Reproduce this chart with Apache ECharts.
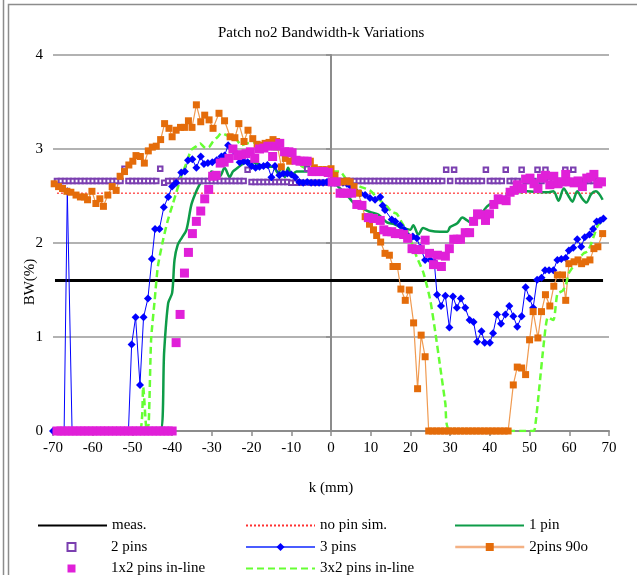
<!DOCTYPE html>
<html>
<head>
<meta charset="utf-8">
<script src="https://cdn.jsdelivr.net/npm/echarts@6/dist/echarts.min.js"></script>
<style>
html,body{margin:0;padding:0;background:#fff;}
#chart{width:637px;height:575px;}
</style>
</head>
<body>
<div id="chart"></div>
<script>
// ---------- DATA ----------
var titleText = 'Patch no2 Bandwidth-k Variations';
var xTicks = [-70, -60, -50, -40, -30, -20, -10, 0, 10, 20, 30, 40, 50, 60, 70];
var yTicks = [0, 1, 2, 3, 4];

var measK = [-69.5, 68.5];
var measV = [1.6, 1.6];

var noPinK = [-69, 68];
var noPinV = [2.53, 2.53];

var pin1K = [-70, -43, -42, -41, -40, -39.4, -38.6, -37.5, -36.4, -35.2, -34.3, -33.1, -32.2, -31, -30.1, -29, -28, -26.8, -25.5, -24.7, -23.5, -22.6, -20.5, -19, -17.9, -16.2, -14.6, -13.3, -12.5, -11.6, -10.8, -9.9, -8.7, -6.1, -4.5, -1.9, 0.2, 1.4, 2.3, 3.1, 4.8, 5.6, 7.3, 9.8, 12, 14.1, 16, 17.4, 19, 20, 20.7, 22, 23.2, 25, 27.5, 29.3, 30, 31.8, 33.1, 34.3, 35.1, 36, 37.6, 39.3, 40.9, 43.4, 44.8, 46, 47.7, 49.4, 52.8, 54.5, 56, 57.3, 58.6, 59.8, 60.8, 62, 63.3, 64.3, 65.5, 66.7, 68.4];
var pin1V = [0, 0, 0.85, 1.36, 1.47, 1.82, 1.98, 2.06, 2.14, 2.4, 2.51, 2.62, 2.67, 2.66, 2.76, 2.74, 2.71, 2.8, 2.7, 2.76, 2.8, 2.83, 2.87, 2.85, 2.83, 2.81, 2.81, 2.74, 2.82, 2.7, 2.8, 2.72, 2.76, 2.76, 2.79, 2.79, 2.75, 2.62, 2.58, 2.55, 2.47, 2.43, 2.38, 2.33, 2.3, 2.22, 2.2, 2.17, 2.15, 2.14, 2.19, 2.09, 2.16, 2.13, 2.12, 2.12, 2.17, 2.21, 2.27, 2.24, 2.22, 2.27, 2.3, 2.39, 2.43, 2.46, 2.55, 2.57, 2.54, 2.55, 2.54, 2.54, 2.55, 2.45, 2.58, 2.5, 2.44, 2.55, 2.47, 2.43, 2.52, 2.55, 2.46];

var pin2K = [-69, -68, -67, -66, -65, -64, -63, -62, -61, -60, -59, -58, -57, -56, -55, -54, -53, -52, -51, -50, -49, -48, -47, -46, -45, -44, -43, -42, -41, -40, -39, -38, -37, -36, -35, -34, -33, -32, -31, -30, -29, -28, -27, -26, -25, -24, -23, -22, -21, -20, -19, -18, -17, -16, -15, -14, -13, -12, -11, -10, -9, -8, -7, -6, -5, -4, -3, -2, -1, 0, 1, 2, 3, 4, 5, 6, 7, 8, 9, 10, 11, 12, 13, 14, 15, 16, 17, 18, 19, 20, 21, 22, 23, 24, 25, 26, 27, 28, 29, 30, 31, 32, 33, 34, 35, 36, 37, 38, 39, 40, 41, 42, 43, 44, 45, 46, 47, 48, 49, 50, 51, 52, 53, 54, 55, 56, 57, 58, 59, 60, 61, 62, 63, 64, 65, 66, 67, 68];
var pin2V = [2.66, 2.66, 2.66, 2.66, 2.66, 2.66, 2.66, 2.66, 2.66, 2.66, 2.66, 2.66, 2.66, 2.66, 2.66, 2.66, 2.66, 2.79, 2.66, 2.66, 2.66, 2.66, 2.66, 2.66, 2.66, 2.66, 2.79, 2.64, 2.66, 2.66, 2.66, 2.66, 2.66, 2.66, 2.66, 2.66, 2.66, 2.66, 2.66, 2.66, 2.66, 2.66, 2.66, 2.66, 2.66, 2.66, 2.66, 2.66, 2.78, 2.65, 2.65, 2.65, 2.65, 2.65, 2.65, 2.65, 2.65, 2.65, 2.65, 2.64, 2.64, 2.64, 2.64, 2.79, 2.64, 2.64, 2.64, 2.64, 2.64, 2.66, 2.66, 2.66, 2.66, 2.66, 2.66, 2.66, 2.66, 2.66, 2.66, 2.66, 2.66, 2.66, 2.66, 2.66, 2.66, 2.66, 2.66, 2.66, 2.66, 2.66, 2.66, 2.66, 2.66, 2.66, 2.66, 2.66, 2.66, 2.66, 2.78, 2.66, 2.78, 2.66, 2.66, 2.66, 2.66, 2.66, 2.66, 2.66, 2.78, 2.66, 2.66, 2.66, 2.66, 2.78, 2.66, 2.66, 2.66, 2.78, 2.66, 2.66, 2.66, 2.78, 2.66, 2.78, 2.66, 2.66, 2.66, 2.66, 2.78, 2.66, 2.78, 2.66, 2.66, 2.66, 2.66, 2.66, 2.66, 2.66];

var pin3K = [-70, -68, -67.2, -66.4, -65.2, -62, -58, -54, -51, -50.2, -49.2, -48.1, -47.2, -46.1, -45.1, -44.3, -43.2, -42.1, -41, -40, -39, -37.7, -36.8, -36, -34.9, -33.9, -32.8, -32, -31, -29.9, -28.8, -27.6, -26.8, -25.9, -24.9, -24, -23, -22, -21, -20, -19, -18, -17, -16, -15, -14.1, -13, -12, -11, -10, -9, -8, -7, -6, -5, -4, -3, -2, -1, 0, 1, 2, 3, 4, 5, 6, 7.3, 8.6, 9.8, 11.1, 12.4, 13, 13.6, 15.3, 16.2, 17.4, 18.4, 19.5, 20.6, 21.6, 22.5, 23.7, 25, 26, 26.7, 27.7, 28.8, 29.8, 30.7, 31.7, 32.7, 33.8, 34.9, 35.9, 36.8, 37.9, 38.7, 40, 40.8, 41.8, 42.8, 43.9, 44.9, 45.9, 46.9, 48, 49, 50, 50.9, 51.9, 53, 53.9, 54.9, 56, 57, 58, 59.1, 59.9, 61, 62, 63, 63.9, 65.1, 66, 66.9, 67.8, 68.6];
var pin3V = [0, 0, 0, 2.55, 0, 0, 0, 0, 0, 0.92, 1.21, 0.49, 1.21, 1.41, 1.83, 2.15, 2.15, 2.38, 2.49, 2.6, 2.64, 2.75, 2.76, 2.88, 2.89, 2.8, 2.92, 2.84, 2.85, 2.86, 2.88, 2.92, 2.93, 3.04, 3.0, 2.96, 2.86, 2.87, 2.86, 2.82, 2.8, 2.81, 2.82, 2.83, 2.7, 2.82, 2.72, 2.74, 2.74, 2.73, 2.7, 2.65, 2.64, 2.65, 2.64, 2.64, 2.64, 2.64, 2.65, 2.64, 2.64, 2.65, 2.64, 2.63, 2.6, 2.56, 2.53, 2.51, 2.48, 2.46, 2.49, 2.4, 2.35, 2.25, 2.23, 2.19, 2.14, 2.07, 2.07, 2.05, 1.95, 1.82, 1.82, 1.8, 1.45, 1.33, 1.44, 1.1, 1.43, 1.31, 1.41, 1.31, 1.18, 1.16, 0.95, 1.06, 0.94, 0.94, 1.04, 1.24, 1.14, 1.24, 1.33, 1.22, 1.11, 1.22, 1.53, 1.41, 1.31, 1.61, 1.63, 1.71, 1.71, 1.71, 1.82, 1.83, 1.84, 1.92, 1.95, 2.04, 1.96, 2.06, 2.09, 2.15, 2.23, 2.24, 2.26];

var pin90K = [-69.7, -68.6, -67.6, -66.5, -65.5, -64.2, -63.1, -62.1, -61.3, -60.2, -59.2, -58.2, -57.3, -56.2, -55.1, -54.1, -53.1, -52, -50.9, -49.9, -49.1, -48, -47, -46, -45, -44, -42.9, -41.9, -40.8, -40, -39, -37.9, -36.9, -35.9, -35, -33.9, -32.8, -31.8, -30.7, -29.7, -28.2, -26.8, -25.4, -24.2, -23.2, -21.9, -20.9, -19.7, -18.6, -17.5, -16.6, -15.6, -14.6, -13.7, -12.5, -11.5, -10.4, -9.3, -8.2, -7.2, -6.2, -5.2, -4.2, -3.1, -2.1, -1.1, 0, 1, 2, 3, 4, 4.8, 5.8, 6.9, 7.8, 8.6, 9.7, 10.7, 11.5, 12.5, 13.6, 14.7, 15.6, 16.7, 17.6, 18.7, 19.7, 20.8, 21.8, 22.7, 23.7, 24.6, 25.6, 26.6, 27.6, 28.6, 29.6, 30.6, 31.6, 32.6, 33.6, 34.6, 35.6, 36.6, 37.6, 38.6, 39.6, 40.6, 41.6, 42.6, 43.6, 44.6, 45.9, 46.9, 48, 49, 50, 50.9, 52.1, 53, 54, 55.1, 56.1, 57, 58.3, 59.1, 59.9, 61.2, 62.2, 63.1, 64.1, 65.2, 66.2, 67.2, 68.4];
var pin90V = [2.63, 2.6, 2.58, 2.55, 2.54, 2.51, 2.49, 2.49, 2.46, 2.55, 2.42, 2.47, 2.39, 2.51, 2.6, 2.56, 2.71, 2.76, 2.83, 2.87, 2.93, 2.92, 2.85, 2.98, 3.02, 3.03, 3.1, 3.27, 3.22, 3.13, 3.2, 3.23, 3.23, 3.3, 3.23, 3.47, 3.29, 3.36, 3.31, 3.22, 3.38, 3.3, 3.13, 3.12, 3.27, 3.08, 3.2, 3.11, 3.05, 3.04, 3.06, 3.07, 3.1, 3.08, 2.81, 2.9, 2.87, 2.88, 2.88, 2.87, 2.86, 2.87, 2.8, 2.78, 2.78, 2.78, 2.79, 2.72, 2.65, 2.65, 2.66, 2.65, 2.6, 2.53, 2.4, 2.28, 2.2, 2.14, 2.08, 2.01, 1.89, 1.87, 1.75, 1.75, 1.51, 1.39, 1.5, 1.15, 0.45, 1.02, 0.79, 0, 0, 0, 0, 0, 0, 0, 0, 0, 0, 0, 0, 0, 0, 0, 0, 0, 0, 0, 0, 0, 0.49, 0.68, 0.67, 0.6, 0.97, 1.27, 0.99, 1.27, 1.45, 1.33, 1.54, 1.66, 1.66, 1.39, 1.78, 1.8, 1.82, 1.78, 1.8, 1.82, 1.94, 1.96, 2.1];

var inline12K = [-69, -68, -67, -66, -65, -64, -63, -62, -61, -60, -59, -58, -57, -56, -55, -54, -53, -52, -51, -50, -49, -48, -47, -46, -45, -44, -43, -42, -41, -40, -39, -38, -36.9, -35.9, -34.9, -33.9, -32.8, -31.8, -30.8, -29.8, -28.9, -27.9, -26.9, -25.7, -24.7, -23.5, -22.5, -21.4, -20.3, -19.2, -18, -16.9, -15.9, -14.7, -13.8, -12.9, -11.7, -10.6, -9.8, -8.8, -7.8, -6.8, -6, -4.8, -3.8, -2.8, -1.8, -0.7, 0.3, 1.3, 2.3, 3.2, 4.1, 5.2, 6.5, 7.8, 9.4, 10.7, 12.4, 13.3, 14.1, 15.3, 16.2, 17.1, 18.3, 19.3, 20.4, 21.4, 22.5, 23.7, 24.8, 25.8, 26.8, 27.8, 28.8, 29.8, 30.9, 31.8, 32.6, 33.8, 34.9, 35.9, 36.9, 37.9, 38.9, 39.9, 41, 42.1, 43.1, 44.1, 45.1, 46.1, 46.9, 48.2, 49, 50.1, 51.1, 52.1, 53, 54, 55.1, 56.1, 57.2, 58.1, 59.1, 60.2, 61.2, 62.2, 63.3, 64.4, 65.4, 66.2, 67.2, 68.1];
var inline12V = [0, 0, 0, 0, 0, 0, 0, 0, 0, 0, 0, 0, 0, 0, 0, 0, 0, 0, 0, 0, 0, 0, 0, 0, 0, 0, 0, 0, 0, 0, 0.94, 1.24, 1.68, 1.9, 2.1, 2.23, 2.34, 2.47, 2.57, 2.71, 2.72, 2.85, 2.86, 2.9, 3.0, 2.93, 2.94, 2.95, 2.97, 2.9, 3.0, 3.01, 3.03, 2.92, 3.03, 3.06, 2.97, 2.97, 2.96, 2.88, 2.87, 2.87, 2.87, 2.76, 2.76, 2.76, 2.76, 2.75, 2.65, 2.65, 2.53, 2.53, 2.53, 2.53, 2.41, 2.4, 2.27, 2.26, 2.24, 2.14, 2.12, 2.12, 2.1, 2.1, 2.09, 2.05, 1.94, 1.93, 1.93, 2.03, 1.89, 1.77, 1.87, 1.75, 1.86, 1.94, 2.04, 2.04, 2.04, 2.11, 2.11, 2.23, 2.31, 2.3, 2.24, 2.31, 2.41, 2.47, 2.46, 2.45, 2.54, 2.56, 2.62, 2.58, 2.68, 2.69, 2.63, 2.58, 2.69, 2.72, 2.62, 2.71, 2.63, 2.65, 2.73, 2.65, 2.64, 2.66, 2.6, 2.69, 2.7, 2.73, 2.63, 2.65];

var inline32K = [-70, -48.2, -47.3, -46.4, -45.9, -45.3, -44.4, -43.6, -42.3, -41.1, -39.8, -39, -37.7, -36.4, -35.2, -33.9, -33, -31.6, -30.7, -29.7, -28.5, -27.6, -26.5, -25.4, -23.8, -22.6, -21.3, -19.2, -17, -15, -12.9, -11.2, -8.5, -6.1, -3.5, -1.1, 0.6, 2.3, 4, 7.3, 9.8, 11.9, 14.1, 15.3, 16.6, 17.8, 19.5, 20.5, 21.6, 23.3, 25, 26.3, 27.5, 28.8, 29.6, 51, 51.5, 52.4, 53.5, 54.6, 56, 57, 58.3, 59.1, 59.9, 61, 62.2, 63.6, 64.6, 65.4, 66.4, 67.2, 68.1];
var inline32V = [0, 0, 0.47, 0, 0.08, 0.97, 1.39, 1.75, 2.03, 2.24, 2.42, 2.53, 2.71, 2.85, 2.99, 3.03, 3.06, 3.01, 3.02, 3.08, 3.13, 3.17, 3.15, 3.13, 3.1, 3.04, 3.06, 3.07, 3.06, 3.0, 2.99, 2.95, 2.85, 2.79, 2.8, 2.76, 2.76, 2.76, 2.67, 2.6, 2.56, 2.47, 2.39, 2.33, 2.31, 2.22, 2.1, 1.98, 1.85, 1.68, 1.39, 1.04, 0.68, 0.29, 0.03, 0, 0.08, 0.44, 0.9, 1.21, 1.18, 1.46, 1.49, 1.55, 1.68, 1.75, 1.82, 1.89, 1.91, 1.98, 2.1, 2.19, 2.22];

// ---------- CHART ----------
function zip(k, v) { return k.map(function (x, i) { return [x, v[i]]; }); }
var FONT = '"Liberation Serif", "DejaVu Serif", serif';
var GRAY = '#8c8c8c';

var chart = echarts.init(document.getElementById('chart'), null, { renderer: 'canvas' });
var legendText = { fontFamily: FONT, fontSize: 15, color: '#000' };

// legend slots: [item, column-left, row-top]
var colLeft = [37, 245, 454];
var rowTop = [518, 539.5, 561];
function leg(item, col, row) {
  return {
    left: colLeft[col], top: rowTop[row], padding: 0, orient: 'horizontal',
    itemWidth: 69, itemHeight: 10, selectedMode: false,
    textStyle: legendText, data: [item]
  };
}

chart.setOption({
  animation: false,
  backgroundColor: '#fff',
  title: {
    text: titleText, left: 213, top: 21,
    textStyle: { fontFamily: FONT, fontSize: 15, fontWeight: 'normal', color: '#000' }
  },
  grid: { left: 53, right: 28, top: 55, bottom: 144, containLabel: false },
  xAxis: {
    type: 'value', min: xTicks[0], max: xTicks[xTicks.length - 1], interval: 10,
    name: 'k (mm)', nameLocation: 'middle', nameGap: 50,
    nameTextStyle: { fontFamily: FONT, fontSize: 15, color: '#000' },
    axisLine: { show: true, onZero: false, lineStyle: { color: GRAY, width: 2 } },
    axisTick: { show: true, length: 5, lineStyle: { color: GRAY, width: 1.5 } },
    axisLabel: { fontFamily: FONT, fontSize: 15, color: '#000', margin: 10 },
    splitLine: { show: false }
  },
  yAxis: {
    type: 'value', min: yTicks[0], max: yTicks[yTicks.length - 1], interval: 1,
    axisLine: { show: true, onZero: true, lineStyle: { color: GRAY, width: 2 } },
    axisTick: { show: true, length: 5, lineStyle: { color: GRAY, width: 1.5 } },
    axisLabel: { fontFamily: FONT, fontSize: 15, color: '#000', margin: 10 },
    splitLine: { show: true, lineStyle: { color: '#999', width: 1.5 } }
  },
  legend: [
    leg({ name: 'meas.', itemStyle: { opacity: 0 } }, 0, 0),
    leg({ name: 'no pin sim.', itemStyle: { opacity: 0 } }, 1, 0),
    leg({ name: '1 pin', itemStyle: { opacity: 0 } }, 2, 0),
    leg({ name: '2 pins', lineStyle: { opacity: 0 } }, 0, 1),
    leg({ name: '3 pins', lineStyle: { width: 2, color: '#4a5cff' } }, 1, 1),
    leg({ name: '2pins 90o', lineStyle: { width: 2.5, color: '#F4B183' } }, 2, 1),
    leg({ name: '1x2 pins in-line', lineStyle: { opacity: 0 } }, 0, 2),
    leg({ name: '3x2 pins in-line', itemStyle: { opacity: 0 } }, 1, 2)
  ],
  graphic: [
    { type: 'line', shape: { x1: 3.5, y1: 0, x2: 3.5, y2: 575 }, style: { stroke: GRAY, lineWidth: 1.5 } },
    { type: 'polyline', shape: { points: [[8.5, 575], [8.5, 4.5], [637, 4.5]] }, style: { stroke: GRAY, lineWidth: 1.5, fill: null } },
    { type: 'text', x: 30, y: 282, rotation: Math.PI / 2,
      style: { text: 'BW(%)', fontFamily: FONT, fontSize: 15, fill: '#000', align: 'center', verticalAlign: 'middle' } }
  ],
  series: [
    { name: 'meas.', type: 'line', data: zip(measK, measV), symbol: 'none',
      lineStyle: { color: '#000', width: 3 }, itemStyle: { color: '#000' } },
    { name: 'no pin sim.', type: 'line', data: zip(noPinK, noPinV), symbol: 'none',
      lineStyle: { color: '#ff3030', width: 1.2, type: [2, 2] }, itemStyle: { color: '#ff3030' } },
    { name: '1 pin', type: 'line', data: zip(pin1K, pin1V), symbol: 'none', smooth: 0.3,
      lineStyle: { color: '#0E9C48', width: 2.5 }, itemStyle: { color: '#0E9C48' } },
    { name: '2 pins', type: 'line', data: zip(pin2K, pin2V), symbol: 'emptyRect', symbolSize: 4.5,
      showSymbol: true, showAllSymbol: true,
      lineStyle: { width: 0, opacity: 0 }, itemStyle: { color: '#7B3FB0', borderWidth: 1 } },
    { name: '3 pins', type: 'line', data: zip(pin3K, pin3V), symbol: 'diamond', symbolSize: 8,
      showSymbol: true, showAllSymbol: true,
      lineStyle: { color: '#0000FF', width: 1 }, itemStyle: { color: '#0000FF' } },
    { name: '2pins 90o', type: 'line', data: zip(pin90K, pin90V), symbol: 'rect', symbolSize: 7,
      showSymbol: true, showAllSymbol: true,
      lineStyle: { color: '#F09A50', width: 1.2 }, itemStyle: { color: '#E46C0A' } },
    { name: '1x2 pins in-line', type: 'line', data: zip(inline12K, inline12V), symbol: 'rect', symbolSize: 9,
      showSymbol: true, showAllSymbol: true,
      lineStyle: { width: 0, opacity: 0 }, itemStyle: { color: '#E020D8' } },
    { name: '3x2 pins in-line', type: 'line', data: zip(inline32K, inline32V), symbol: 'none', smooth: 0.2,
      lineStyle: { color: '#66FF33', width: 2.5, type: [7, 4] }, itemStyle: { color: '#66FF33' } }
  ]
});
</script>
</body>
</html>
